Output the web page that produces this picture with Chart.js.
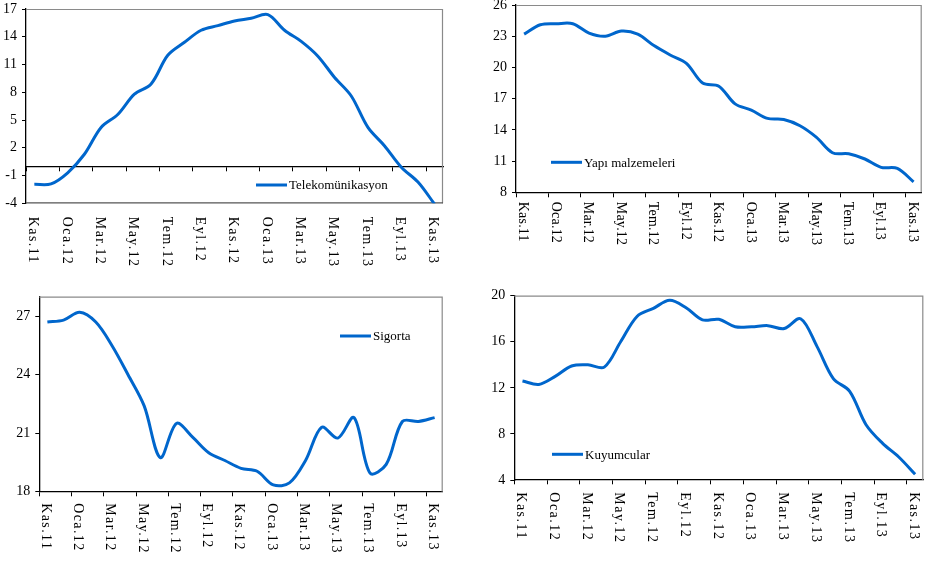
<!DOCTYPE html>
<html lang="tr">
  <head>
    <meta charset="UTF-8" />
    <title>Sektörel kredi büyümesi</title>
    <style>
      * {
        margin: 0;
        padding: 0;
        box-sizing: border-box;
      }

      body {
        width: 944px;
        height: 565px;
        background: #ffffff;
        position: relative;
        overflow: hidden;
      }

      canvas {
        position: absolute;
        left: 0;
        top: 0;
      }
    </style>
  </head>
  <body>
    <canvas id="chart1" width="944" height="565"></canvas>
    <canvas id="chart2" width="944" height="565"></canvas>
    <canvas id="chart3" width="944" height="565"></canvas>
    <canvas id="chart4" width="944" height="565"></canvas>

    <script src="https://cdn.jsdelivr.net/npm/chart.js"></script>
    <script>
      // aylar (Kas.11 - Kas.13), eksende her ikinci ay yazılıyor
      const aylar = [
        "Kas.11", "Ara.11", "Oca.12", "Şub.12", "Mar.12", "Nis.12", "May.12",
        "Haz.12", "Tem.12", "Ağu.12", "Eyl.12", "Eki.12", "Kas.12", "Ara.12",
        "Oca.13", "Şub.13", "Mar.13", "Nis.13", "May.13", "Haz.13", "Tem.13",
        "Ağu.13", "Eyl.13", "Eki.13", "Kas.13",
      ];

      const telekom = [
        -1.95, -1.9, -0.7, 1.3, 4.2, 5.6, 7.8, 8.9, 12.0, 13.4, 14.7, 15.2,
        15.7, 16.0, 16.4, 14.7, 13.5, 11.9, 9.6, 7.6, 4.2, 2.2, -0.1, -1.7, -4.1,
      ];
      const yapi = [
        23.2, 24.1, 24.2, 24.2, 23.3, 23.0, 23.5, 23.2, 22.1, 21.2, 20.4, 18.5,
        18.2, 16.5, 15.9, 15.1, 15.0, 14.4, 13.3, 11.8, 11.7, 11.2, 10.4, 10.3, 9.0,
      ];
      const sigorta = [
        26.7, 26.8, 27.2, 26.7, 25.5, 24.0, 22.4, 19.75, 21.5, 20.8, 20.0, 19.6,
        19.2, 19.05, 18.35, 18.45, 19.6, 21.3, 20.75, 21.8, 18.95, 19.4, 21.6,
        21.6, 21.8,
      ];
      const kuyumcu = [
        12.6, 12.3, 13.0, 13.9, 14.0, 13.8, 16.0, 18.2, 18.9, 19.6, 18.95, 17.9,
        17.95, 17.3, 17.3, 17.4, 17.15, 18.0, 15.6, 12.8, 11.7, 8.8, 7.2, 6.0, 4.5,
      ];

      const yTicks1 = [-4, -1, 2, 5, 8, 11, 14, 17];
      const yTicks2 = [8, 11, 14, 17, 20, 23, 26];
      const yTicks3 = [18, 21, 24, 27];
      const yTicks4 = [4, 8, 12, 16, 20];

      Chart.defaults.font.family = '"Liberation Serif", "Times New Roman", serif';
      Chart.defaults.font.size = 14;
      Chart.defaults.color = "#000";

      // çerçeve, dikey ay etiketleri ve gösterge
      const ekstra = {
        id: "ekstra",
        beforeDatasetsDraw(chart, args, o) {
          const ctx = chart.ctx;
          const a = chart.chartArea;
          ctx.save();
          ctx.strokeStyle = "#8a8a8a";
          ctx.lineWidth = 1.2;
          ctx.beginPath();
          ctx.moveTo(a.left, a.top + 0.5);
          ctx.lineTo(a.right - 0.5, a.top + 0.5);
          ctx.lineTo(a.right - 0.5, a.bottom);
          ctx.stroke();
          if (o.altCizgi) {
            ctx.strokeStyle = "#555";
            ctx.beginPath();
            ctx.moveTo(a.left, a.bottom - 0.5);
            ctx.lineTo(a.right, a.bottom - 0.5);
            ctx.stroke();
          }
          ctx.restore();
        },
        afterDraw(chart, args, o) {
          const ctx = chart.ctx;
          const a = chart.chartArea;
          const x = chart.scales.x;
          ctx.save();
          ctx.fillStyle = "#000";
          ctx.font = '14px "Liberation Serif", serif';
          ctx.letterSpacing = o.aralik + "px";
          ctx.textAlign = "left";
          ctx.textBaseline = "middle";
          chart.data.labels.forEach(function (lab, i) {
            if (i % 2) return;
            ctx.save();
            ctx.translate(x.getPixelForValue(i) + o.dx, a.bottom + o.dy);
            ctx.rotate(Math.PI / 2);
            ctx.fillText(lab, 0, 0);
            ctx.restore();
          });
          ctx.letterSpacing = "0px";

          // gösterge
          const ds = chart.data.datasets[0];
          const lx = o.gosterge[0];
          const ly = o.gosterge[1];
          ctx.strokeStyle = ds.borderColor;
          ctx.lineWidth = 3;
          ctx.beginPath();
          ctx.moveTo(lx, ly);
          ctx.lineTo(lx + 31, ly);
          ctx.stroke();
          ctx.font = '13px "Liberation Serif", serif';
          ctx.fillText(ds.label, lx + 33, ly + 1);
          ctx.restore();
        },
      };

      function grafik(id, etiket, veri, yTicks, alan, eksenY, ek) {
        const yMin = yTicks[0];
        const yGen = 40;
        return new Chart(document.getElementById(id), {
          type: "line",
          data: {
            labels: aylar,
            datasets: [
              {
                label: etiket,
                data: veri,
                borderColor: "#0066cc",
                borderWidth: 3,
                pointRadius: 0,
                tension: 0.33,
                fill: false,
              },
            ],
          },
          options: {
            responsive: false,
            animation: false,
            events: [],
            layout: {
              padding: {
                left: alan.left - yGen,
                top: alan.top,
                right: 944 - alan.right,
                bottom: 565 - alan.bottom,
              },
            },
            plugins: {
              legend: { display: false },
              tooltip: { enabled: false },
              ekstra: ek,
            },
            scales: {
              x: {
                type: "category",
                position: { y: eksenY },
                offset: true,
                ticks: { display: false },
                border: { color: "#000", width: 1.3 },
                grid: {
                  offset: true,
                  drawOnChartArea: false,
                  tickLength: 4,
                  color: function (c) {
                    return c.index % 2 === 0 ? "#000" : "rgba(0,0,0,0)";
                  },
                },
              },
              y: {
                min: yMin,
                max: alan.max,
                afterBuildTicks: function (s) {
                  s.ticks = yTicks.map(function (v) {
                    return { value: v };
                  });
                },
                afterFit: function (s) {
                  s.width = yGen;
                  s.paddingTop = 0;
                  s.paddingBottom = 0;
                },
                ticks: {
                  padding: 5,
                  font: { size: 14 },
                  callback: function (v) {
                    return String(v);
                  },
                },
                border: { color: "#000", width: 1.3 },
                grid: {
                  drawOnChartArea: false,
                  tickLength: 4,
                  color: "#000",
                },
              },
            },
          },
          plugins: [ekstra],
        });
      }

      grafik(
        "chart1",
        "Telekomünikasyon",
        telekom,
        yTicks1,
        { left: 26, top: 9, right: 443, bottom: 203.3, max: 17 },
        0,
        { dx: -1.5, dy: 13.5, aralik: 1.4, gosterge: [256, 185], altCizgi: true }
      );
      grafik(
        "chart2",
        "Yapı malzemeleri",
        yapi,
        yTicks2,
        { left: 516, top: 5, right: 921.7, bottom: 192.3, max: 26 },
        8,
        { dx: -1, dy: 9.5, aralik: 0.2, gosterge: [551, 162.3], altCizgi: false }
      );
      grafik(
        "chart3",
        "Sigorta",
        sigorta,
        yTicks3,
        { left: 39.3, top: 296.7, right: 442.7, bottom: 491.7, max: 28 },
        18,
        { dx: -2, dy: 11.5, aralik: 1.4, gosterge: [340, 336], altCizgi: false }
      );
      grafik(
        "chart4",
        "Kuyumcular",
        kuyumcu,
        yTicks4,
        { left: 514.3, top: 295.7, right: 923.3, bottom: 480, max: 20 },
        4,
        { dx: -1.5, dy: 12.3, aralik: 1.5, gosterge: [552, 454.3], altCizgi: false }
      );
    </script>
  </body>
</html>
